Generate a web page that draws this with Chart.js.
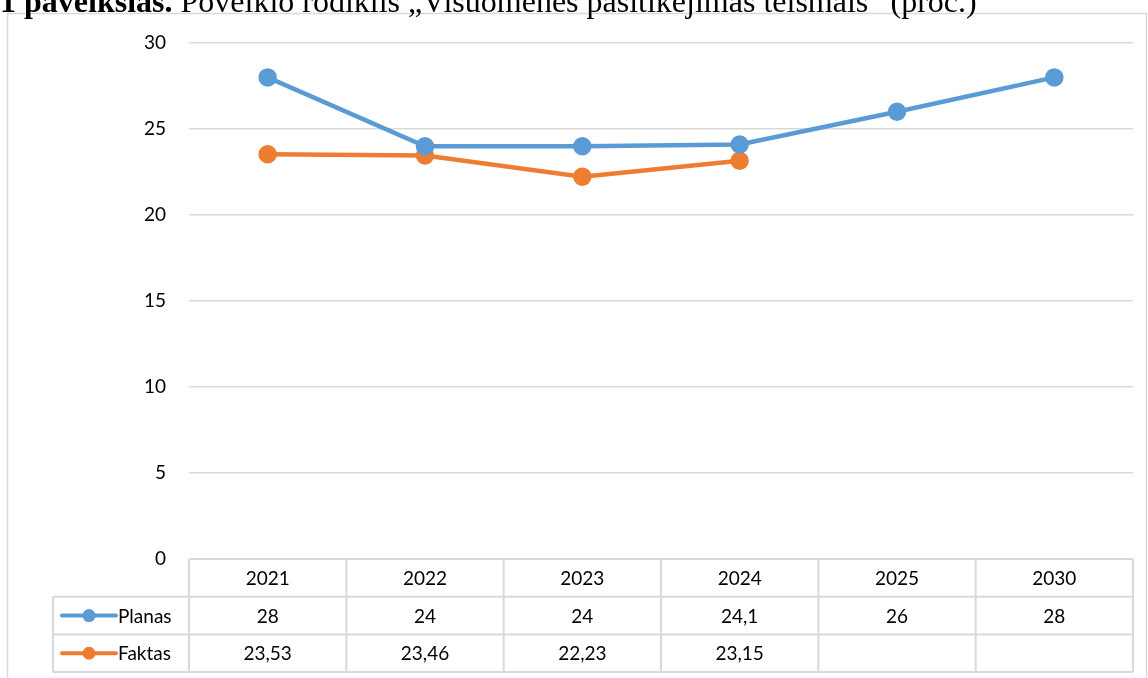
<!DOCTYPE html>
<html>
<head>
<meta charset="utf-8">
<script src="https://cdn.jsdelivr.net/npm/chart.js@4"></script>
<style>
  html, body { margin: 0; padding: 0; background: #fff; }
  #wrap { width: 1148px; height: 678px; position: relative; }
</style>
</head>
<body>
<div id="wrap"><canvas id="chart" width="1148" height="678"></canvas></div>
<script>
const years = ['2021', '2022', '2023', '2024', '2025', '2030'];
const planas = [28, 24, 24, 24.1, 26, 28];
const faktas = [23.53, 23.46, 22.23, 23.15, null, null];
const yTicks = [0, 5, 10, 15, 20, 25, 30];

const titleBold = '1 paveikslas.';
const titleRest = ' Poveikio rodiklis „Visuomenės pasitikėjimas teismais“ (proc.)';

const BLUE = '#5b9bd5';
const ORANGE = '#ed7d31';
const GRID = '#d9d9d9';
const FONT = 'Lato, "Open Sans", sans-serif';

function fmt(v) {
  return v == null ? '' : String(v).replace('.', ',');
}

// frame, title and the data table under the plot
const tablePlugin = {
  id: 'dataTable',
  beforeDraw(chart) {
    const c = chart.ctx;
    c.save();
    c.strokeStyle = GRID;
    c.lineWidth = 1.5;
    c.strokeRect(7.5, 13.5, 1139, 700);
    c.fillStyle = '#000';
    c.textBaseline = 'alphabetic';
    c.textAlign = 'left';
    c.font = 'bold 32px "Liberation Serif", serif';
    c.fillText(titleBold, 0, 11.5);
    const w = c.measureText(titleBold).width;
    c.font = '32px "Liberation Serif", serif';
    c.fillText(titleRest, w, 11.5);
    c.restore();
  },
  afterDraw(chart) {
    const c = chart.ctx;
    const a = chart.chartArea;
    const n = years.length;
    const colW = (a.right - a.left) / n;
    const rowH = 37.7;
    const top = a.bottom;
    const legL = 53;
    c.save();
    c.strokeStyle = GRID;
    c.lineWidth = 2;
    c.beginPath();
    // horizontal lines
    c.moveTo(a.left, top); c.lineTo(a.right, top);
    for (let r = 1; r <= 3; r++) {
      c.moveTo(legL, top + r * rowH); c.lineTo(a.right, top + r * rowH);
    }
    // vertical lines
    for (let i = 0; i <= n; i++) {
      const x = a.left + i * colW;
      c.moveTo(x, top); c.lineTo(x, top + 3 * rowH);
    }
    c.moveTo(legL, top + rowH); c.lineTo(legL, top + 3 * rowH);
    c.stroke();

    c.fillStyle = '#000';
    c.font = '19px ' + FONT;
    c.textAlign = 'center';
    c.textBaseline = 'middle';
    const rows = [years, planas.map(fmt), faktas.map(fmt)];
    rows.forEach((vals, r) => {
      const y = top + r * rowH + rowH / 2 + 1;
      vals.forEach((v, i) => {
        c.fillText(v, chart.scales.x.getPixelForValue(i), y);
      });
    });

    // legend keys
    chart.data.datasets.forEach((ds, k) => {
      const y = top + (k + 1) * rowH + rowH / 2;
      c.strokeStyle = ds.borderColor;
      c.lineWidth = 4;
      c.lineCap = 'round';
      c.beginPath();
      c.moveTo(62, y); c.lineTo(116, y);
      c.stroke();
      c.fillStyle = ds.borderColor;
      c.beginPath();
      c.arc(89, y, 6.5, 0, Math.PI * 2);
      c.fill();
      c.fillStyle = '#000';
      c.textAlign = 'left';
      c.fillText(ds.label, 118, y + 1);
    });
    c.restore();
  }
};

new Chart(document.getElementById('chart'), {
  type: 'line',
  data: {
    labels: years,
    datasets: [
      {
        label: 'Planas',
        data: planas,
        borderColor: BLUE,
        backgroundColor: BLUE,
        borderWidth: 4.5,
        pointRadius: 7,
        pointHoverRadius: 7,
        tension: 0
      },
      {
        label: 'Faktas',
        data: faktas,
        borderColor: ORANGE,
        backgroundColor: ORANGE,
        borderWidth: 4.5,
        pointRadius: 7,
        pointHoverRadius: 7,
        tension: 0,
        spanGaps: false
      }
    ]
  },
  options: {
    responsive: false,
    animation: false,
    layout: { padding: { left: 49, right: 15, top: 43, bottom: 119 } },
    plugins: {
      legend: { display: false },
      tooltip: { enabled: false }
    },
    scales: {
      x: {
        display: false,
        offset: true
      },
      y: {
        min: 0,
        max: 30,
        afterBuildTicks(scale) {
          scale.ticks = yTicks.map(v => ({ value: v }));
        },
        afterFit(scale) { scale.width = 140; },
        border: { display: false },
        grid: { color: GRID, lineWidth: 1.5, drawTicks: false },
        ticks: {
          padding: 23,
          color: '#000',
          font: { family: FONT, size: 19 }
        }
      }
    }
  },
  plugins: [tablePlugin]
});
</script>
</body>
</html>
